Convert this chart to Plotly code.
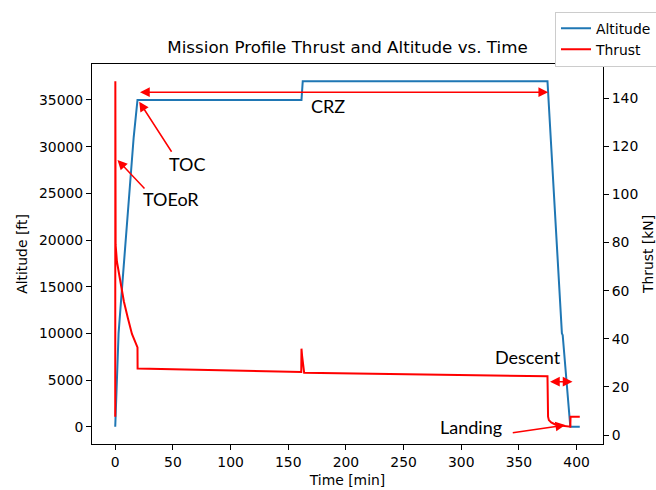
import plotly.graph_objects as go

# ---- data ----
alt_time = [0, 0.4, 2.9, 6.6, 11.5, 16.0, 19.3, 161.5, 162.6, 374.8, 387.3, 388.0, 394.6, 402.8]
alt_ft = [0, 1200, 10000, 16000, 24000, 31000, 35000, 35000, 37000, 37000, 10000, 9800, 0, 0]

thr_time = [0, 0.1, 0.2, 0.35, 1.5, 4.0, 7.5, 11.0, 14.5, 19.3, 19.4,
            161.3, 161.5, 162.0, 163.8, 374.8, 375.3, 376.0, 378.0, 381.0,
            386.0, 394.6, 394.8, 402.8]
thr_kn = [7.6, 147, 110, 79, 72, 65.5, 55.5, 48.5, 42, 36.4, 27.6,
          26.2, 35.9, 33, 25.9, 24.4, 7.6, 6.2, 5.2, 4.5,
          4.0, 3.45, 7.6, 7.6]

x_ticks = [0, 50, 100, 150, 200, 250, 300, 350, 400]
alt_ticks = [0, 5000, 10000, 15000, 20000, 25000, 30000, 35000]
thr_ticks = [0, 20, 40, 60, 80, 100, 120, 140]

# annotation texts and anchor points (time, altitude)
labels = ["CRZ", "TOC", "TOEoR", "Descent", "Landing"]
label_t = [184.7, 62.4, 48.6, 357.7, 308.7]
label_alt = [34340, 28140, 24380, 7470, -30]

# arrows: (tail_t, tail_alt, head_t, head_alt, double)
arrow_tail_t = [20.2, 49.7, 26.6, 375.7, 343.4]
arrow_tail_alt = [35830, 29290, 25360, 4820, -675]
arrow_head_t = [375.4, 20.8, 2.0, 396.5, 390.2]
arrow_head_alt = [35830, 34820, 28575, 4820, 182]
arrow_double = [True, False, False, True, False]

AX_FONT = "DejaVu Sans"
ANN_FONT = "Lato"

fig = go.Figure()
fig.add_trace(go.Scatter(x=alt_time, y=alt_ft, mode="lines", name="Altitude",
                         line=dict(color="#1f77b4", width=2), yaxis="y"))
fig.add_trace(go.Scatter(x=thr_time, y=thr_kn, mode="lines", name="Thrust",
                         line=dict(color="red", width=2), yaxis="y2"))

def xr(lo, hi):
    m = 0.05 * (hi - lo)
    return [lo - m, hi + m]

annotations = []
for tt, ta, ht, ha, dbl in zip(arrow_tail_t, arrow_tail_alt, arrow_head_t, arrow_head_alt, arrow_double):
    annotations.append(dict(
        x=ht, y=ha, ax=tt, ay=ta, xref="x", yref="y", axref="x", ayref="y",
        text="", showarrow=True, arrowhead=2, arrowsize=1.3, arrowwidth=1.5,
        arrowcolor="red", arrowside="end+start" if dbl else "end",
        startarrowhead=2, startarrowsize=1.3, standoff=0, startstandoff=0))
for txt, t, a in zip(labels, label_t, label_alt):
    annotations.append(dict(x=t, y=a, xref="x", yref="y", text=txt, showarrow=False,
                            xanchor="center", yanchor="middle",
                            font=dict(family=ANN_FONT, size=18, color="black")))

axis_common = dict(showgrid=False, zeroline=False, ticks="outside", ticklen=5,
                   tickwidth=1, tickcolor="black", linecolor="black", linewidth=1,
                   tickfont=dict(family=AX_FONT, size=13.9, color="black"))

fig.update_layout(
    width=656, height=490,
    margin=dict(l=92, r=53, t=64, b=46, autoexpand=False),
    paper_bgcolor="white", plot_bgcolor="white",
    title=dict(text="Mission Profile Thrust and Altitude vs. Time",
               x=(92 + 603) / 2 / 656, xanchor="center",
               y=1 - 47.3 / 490, yanchor="middle", yref="container",
               font=dict(family=AX_FONT, size=16.7, color="black")),
    xaxis=dict(range=xr(0, 402.8), tickvals=x_ticks, showline=True, mirror=True,
               title=dict(text="Time [min]", standoff=6,
                          font=dict(family=AX_FONT, size=13.9, color="black")),
               **axis_common),
    yaxis=dict(range=xr(0, 37000), tickvals=alt_ticks, tickformat="d",
               showline=True, mirror=True,
               title=dict(text="Altitude [ft]", standoff=8,
                          font=dict(family=AX_FONT, size=13.9, color="black")),
               **axis_common),
    yaxis2=dict(range=xr(3.45, 147), tickvals=thr_ticks, overlaying="y", side="right",
                showline=True,
                title=dict(text="Thrust [kN]", standoff=10,
                           font=dict(family=AX_FONT, size=13.9, color="black")),
                **axis_common),
    legend=dict(x=(555 - 92) / 511, y=(444 - 11.7) / 380, xanchor="left", yanchor="top",
                bgcolor="white", bordercolor="#cccccc", borderwidth=1,
                font=dict(family=AX_FONT, size=13.9, color="black"),
                itemwidth=30, tracegroupgap=0),
    annotations=annotations,
    showlegend=True,
)

fig.write_html("out.html")
